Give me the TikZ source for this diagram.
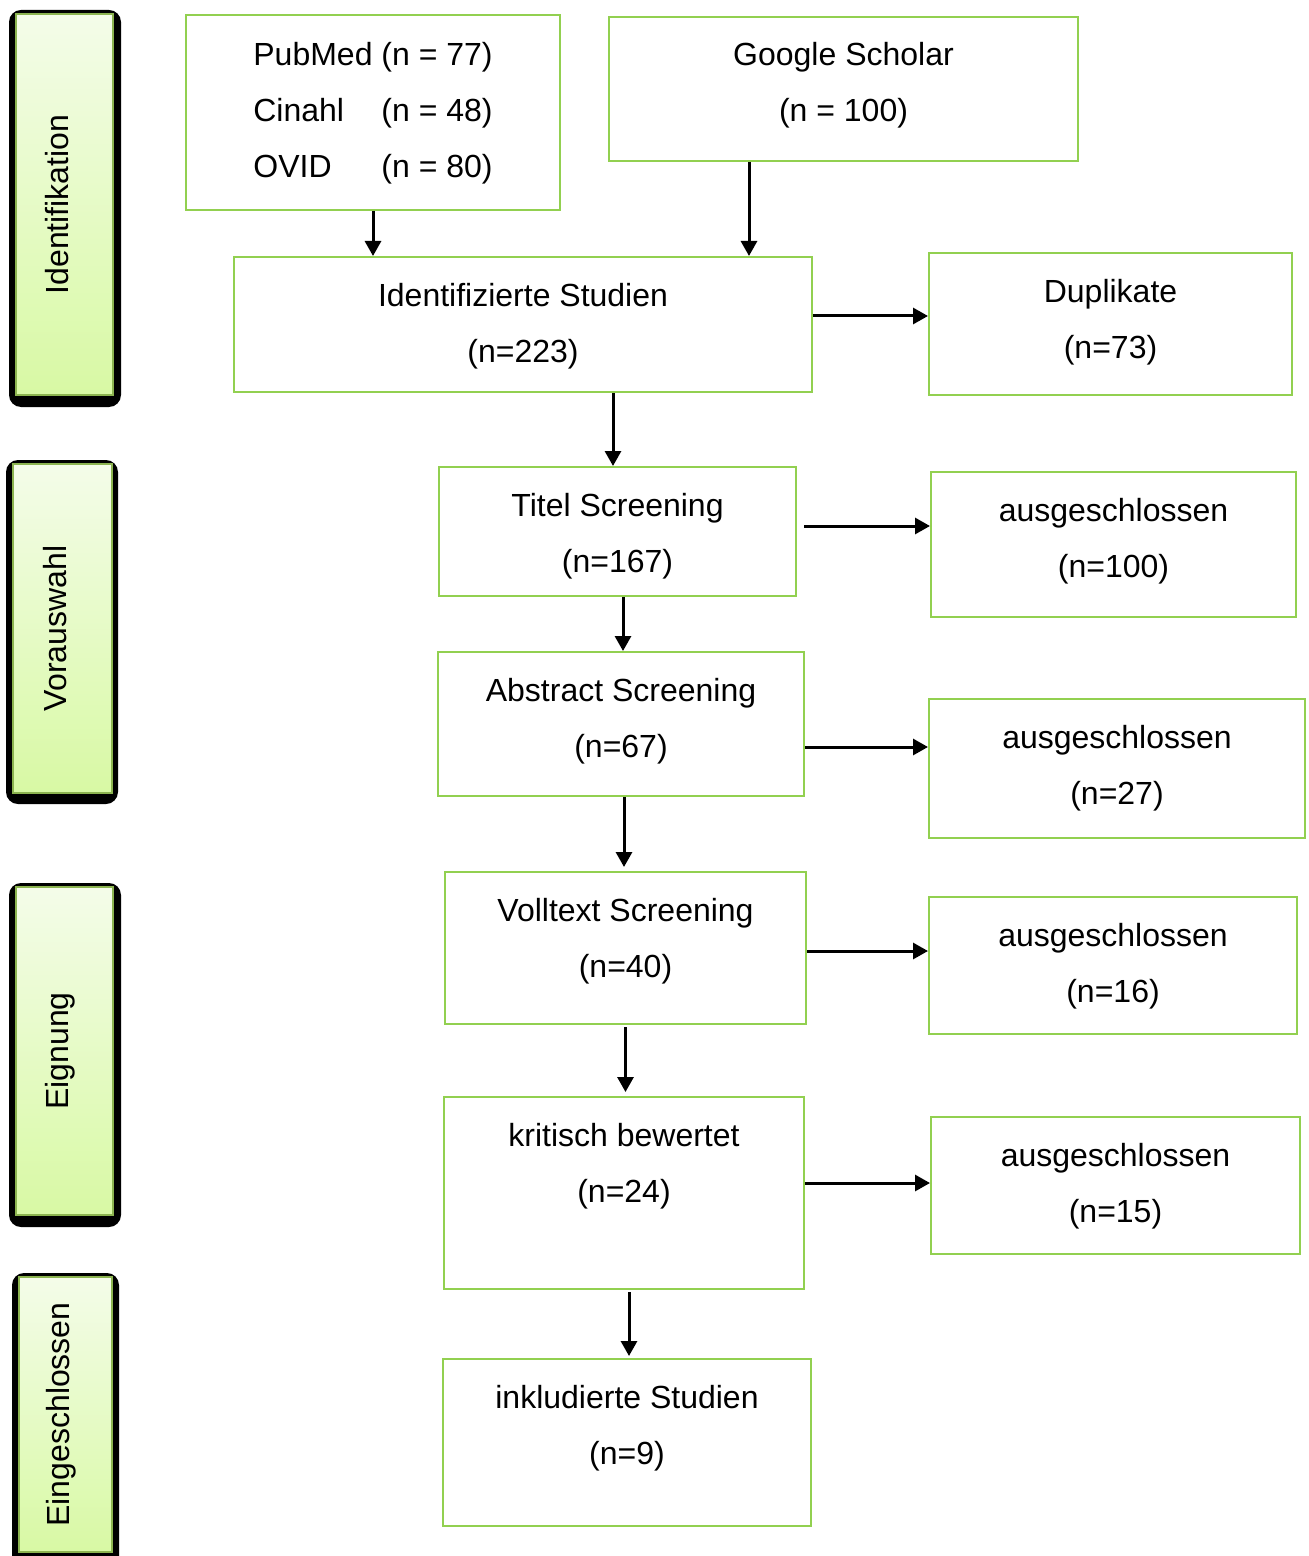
\documentclass[tikz,border=0pt]{standalone}
\usepackage{fontspec}
\setmainfont{Liberation Sans}
\usepackage{tikz}
\usetikzlibrary{arrows.meta,positioning,fit}

\definecolor{boxgreen}{RGB}{146,208,80}
\definecolor{phasetop}{RGB}{244,252,233}
\definecolor{phasebottom}{RGB}{216,249,164}
\definecolor{phaseedge}{RGB}{140,180,80}

\begin{document}
\begin{tikzpicture}[x=0.5pt,y=-0.5pt,>={Triangle[length=7.5pt,width=8pt]},
  box/.style={draw=boxgreen,line width=1pt,inner sep=0pt},
  txt/.style={anchor=base,align=center,inner sep=0pt,font=\fontsize{16}{28}\selectfont},
  phase back/.style={fill=black,rounded corners=6pt,inner sep=0pt},
  phase/.style={draw=phaseedge,line width=0.6pt,top color=phasetop,bottom color=phasebottom,inner sep=0pt},
  phase text/.style={anchor=base,rotate=90,inner sep=0pt,font=\fontsize{16}{28}\selectfont},
  arr/.style={->,line width=1.5pt}]
  \useasboundingbox (0,0) rectangle (1308,1556);

  % phases on the left
  \node[phase back, fit={(9,10) (121,407)}]    (idback) {};
  \node[phase, fit={(16,14) (113,395)}]        (idphase) {};
  \node[phase text] at ([xshift=1.75pt]idphase.center) {Identifikation};
  \node[phase back, fit={(6,460) (118,804)}]   (vorback) {};
  \node[phase, fit={(13,464) (112,793)}]       (vorphase) {};
  \node[phase text] at ([xshift=1.75pt]vorphase.center) {Vorauswahl};
  \node[phase back, fit={(9,883) (121,1227)}]  (eigback) {};
  \node[phase, fit={(16,887) (113,1215)}]      (eigphase) {};
  \node[phase text] at ([xshift=1.75pt]eigphase.center) {Eignung};
  \node[phase back, fit={(12,1273) (119,1570)}] (einback) {};
  \node[phase, fit={(19,1277) (112,1552)}]     (einphase) {};
  \node[phase text] at ([xshift=1.75pt]einphase.center) {Eingeschlossen};

  % boxes
  \node[box, fit={(186,15) (560,210)}]    (db) {};
  \node[box, fit={(609,17) (1078,161)}]   (google) {};
  \node[box, fit={(234,257) (812,392)}]   (ident) {};
  \node[box, fit={(929,253) (1292,395)}]  (dup) {};
  \node[box, fit={(439,467) (796,596)}]   (titel) {};
  \node[box, fit={(931,472) (1296,617)}]  (excl1) {};
  \node[box, fit={(438,652) (804,796)}]   (abstract) {};
  \node[box, fit={(929,699) (1305,838)}]  (excl2) {};
  \node[box, fit={(445,872) (806,1024)}]  (volltext) {};
  \node[box, fit={(929,897) (1297,1034)}] (excl3) {};
  \node[box, fit={(444,1097) (804,1289)}] (kritisch) {};
  \node[box, fit={(931,1117) (1300,1254)}] (excl4) {};
  \node[box, fit={(443,1359) (811,1526)}] (inkl) {};

  % texts (base = last line)
  \node[txt] at ([yshift=-26pt]db.north) {\begin{tabular}[t]{@{}l@{\ }l@{}}PubMed & (n = 77)\\ Cinahl & (n = 48)\\ OVID & (n = 80)\end{tabular}};
  \node[txt] at ([yshift=-53pt]google.north)   {Google Scholar\\(n = 100)};
  \node[txt] at ([yshift=-53pt]ident.north)    {Identifizierte Studien\\(n=223)};
  \node[txt] at ([yshift=-53pt]dup.north)      {Duplikate\\(n=73)};
  \node[txt] at ([yshift=-53pt]titel.north)    {Titel Screening\\(n=167)};
  \node[txt] at ([yshift=-53pt]excl1.north)    {ausgeschlossen\\(n=100)};
  \node[txt] at ([yshift=-53pt]abstract.north) {Abstract Screening\\(n=67)};
  \node[txt] at ([yshift=-53pt]excl2.north)    {ausgeschlossen\\(n=27)};
  \node[txt] at ([yshift=-53pt]volltext.north) {Volltext Screening\\(n=40)};
  \node[txt] at ([yshift=-53pt]excl3.north)    {ausgeschlossen\\(n=16)};
  \node[txt] at ([yshift=-53pt]kritisch.north) {kritisch bewertet\\(n=24)};
  \node[txt] at ([yshift=-53pt]excl4.north)    {ausgeschlossen\\(n=15)};
  \node[txt] at ([yshift=-53pt]inkl.north)     {inkludierte Studien\\(n=9)};

  % arrows down
  \draw[arr] (db.south) -- (db.south |- ident.north);
  \draw[arr] ([xshift=-47.25pt]google.south) -- ([xshift=-47.25pt]google.south |- ident.north);
  \draw[arr] ([xshift=45pt]ident.south) -- ([xshift=45pt]ident.south |- titel.north);
  \draw[arr] ([xshift=2.75pt]titel.south) -- ([xshift=2.75pt]titel.south |- abstract.north);
  \draw[arr,shorten >=2pt] ([xshift=1.5pt]abstract.south) -- ([xshift=1.5pt]abstract.south |- volltext.north);
  \draw[arr,shorten <=1pt,shorten >=2pt] (volltext.south) -- (volltext.south |- kritisch.north);
  \draw[arr,shorten <=1pt,shorten >=1pt] ([xshift=2.5pt]kritisch.south) -- ([xshift=2.5pt]kritisch.south |- inkl.north);

  % arrows right
  \draw[arr] ([yshift=4.25pt]ident.east) -- ([yshift=4.25pt]ident.east -| dup.west);
  \draw[arr,shorten <=3.5pt] ([yshift=2.75pt]titel.east) -- ([yshift=2.75pt]titel.east -| excl1.west);
  \draw[arr] ([yshift=-11.5pt]abstract.east) -- ([yshift=-11.5pt]abstract.east -| excl2.west);
  \draw[arr] ([yshift=-1.5pt]volltext.east) -- ([yshift=-1.5pt]volltext.east -| excl3.west);
  \draw[arr] ([yshift=5pt]kritisch.east) -- ([yshift=5pt]kritisch.east -| excl4.west);
\end{tikzpicture}
\end{document}
